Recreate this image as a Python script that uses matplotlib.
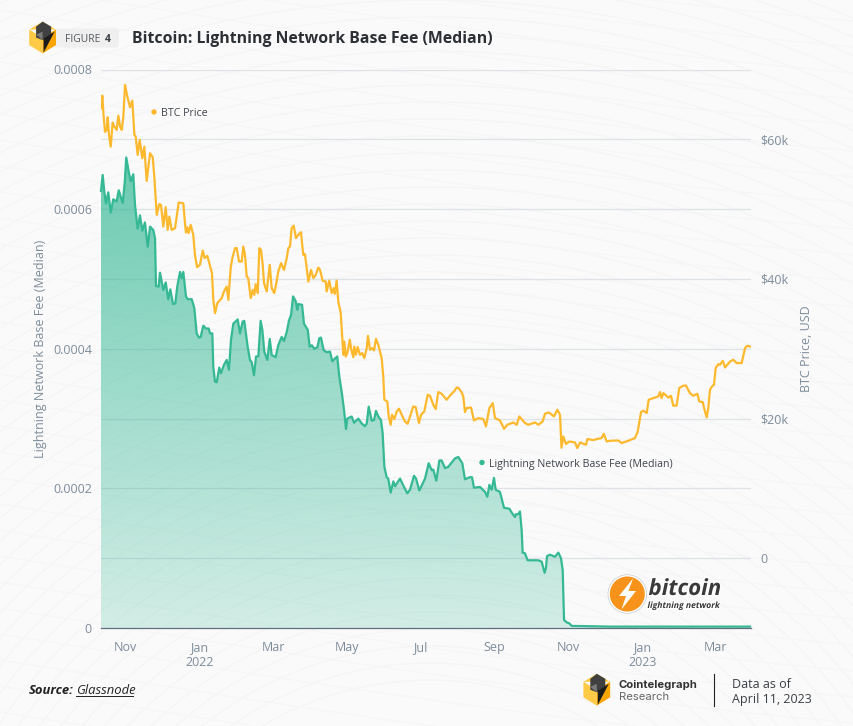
import numpy as np
import pandas as pd
import matplotlib
matplotlib.use("Agg")
import matplotlib.pyplot as plt
import matplotlib.dates as mdates
from matplotlib.patches import Polygon, FancyBboxPatch, Circle
import matplotlib.patheffects as pe

plt.rcParams['font.family'] = ['Open Sans', 'DejaVu Sans']

START = pd.Timestamp("2021-10-25")
END_DAYS = 535.4

price_days = [0,1.1,2.2,3.3,4.7,5.5,6.6,8,9.6,11,12.9,14.3,15.7,17.1,18.4,19.8,21.7,23.9,25.8,27.5,28.6,30.2,31.9,34,35.7,37.6,40.4,42.6,43.9,45.9,48,49.4,51.3,53.3,54.9,56.3,58.2,61,62.4,64,67.8,69.4,70,71.1,72.2,73.9,76,77.4,79.1,81.5,83.8,85.4,87.6,89.2,91.4,92.5,93.9,95.8,99.4,101.3,103.5,104.9,106.8,108.2,110.4,111.8,113.7,115.9,117.2,118.6,120,121.3,123.3,125,126.3,127.4,129.1,130.4,131.8,133.2,134.3,136.5,139,140.6,142.7,144.7,146,148.3,150.7,153,154.3,155.7,157,158.7,160.6,162.5,164.7,166.6,168,170.8,173,174.9,176.9,179,180.4,182.6,185.1,185.9,188,190,191.7,192.7,194.1,195.5,197.4,199.1,199.6,200.4,201.6,202.9,204.9,206.2,207.8,208.6,210,211.4,213.3,215.2,216.9,218.9,219.9,221.6,223.5,224.9,226.5,228.4,231.2,232.5,233.4,235.8,237,238.6,239.7,241.6,243.6,245.5,247.7,250.4,252.6,254.5,257.2,259.2,261.9,263.6,266.3,269.1,271,273.7,275.7,277.8,280.6,284.7,288,290.8,293,294.3,297.1,298.4,299.8,301.2,304.8,307.2,310.8,314.9,317.1,319.9,322.7,324.5,328.6,332,334.7,339.6,342.4,344.6,349.2,352,357.5,360.2,363.8,365.7,369,373.1,375.9,378.1,379.3,380.8,383,385.7,390.4,392.3,394.6,399.5,400.6,405.5,408.3,412.4,414.1,416.5,419.3,426.1,428.9,434.3,439.9,442.1,444.8,446.7,449.5,451.1,454.9,459,460.4,461.8,463.2,467.3,469.5,471.4,474.1,476.3,479.6,481.8,485.1,487.8,491.2,492.8,495.6,497.5,498.9,500.2,501.6,503.3,504.9,506.3,508.5,509.9,512.1,514,518.1,520.8,523.6,527.7,530.5,532.3,534.6]
price_k = [64.45,66.25,63.25,61.06,61.34,63.16,60.63,58.95,62.39,61.82,61.34,63.39,61.82,61.34,63.25,67.79,66.11,64.59,65.54,60.63,60.38,57.77,59.91,57.29,58.95,54.04,58.01,57.44,54.66,49.18,50.71,50.61,47.5,50.28,47.03,48.93,47.03,47.27,49.03,50.94,50.85,47.5,46.64,47.41,46.56,47.74,46.31,43.45,41.69,42.02,44.06,42.98,43.31,42.26,40.83,37.01,35.1,36.53,37.25,38.2,38.91,37.01,41.55,42.98,44.41,44.41,42.49,42.49,44.64,43.45,40.34,40.11,37.25,38.44,37.72,39.25,37.97,44.41,44.16,42.02,39.4,38.2,42.02,38.68,37.97,39.63,41.06,42.26,41.3,42.98,44.41,44.64,47.27,47.64,45.84,46.31,46.7,43.45,43.55,39.63,41.3,40.11,40.59,41.63,41.3,39.73,39.63,38.2,39.77,37.97,38.68,37.87,39.77,36.68,35.22,30.56,29.13,31.04,28.89,29.38,31.28,29.85,28.8,30.32,29.13,30.24,29.13,29.38,28.66,30.09,31.85,29.85,30.09,29.75,31.42,30.56,28.66,26.03,22.69,22.45,20.3,19.11,20.54,19.93,21.02,21.4,20.54,19.58,19.26,20.3,21.73,21.65,19.36,20.54,21.02,23.41,23.26,21.98,21.36,23.79,23.55,22.69,23.41,23.88,24.45,24.41,23.74,23.16,20.93,21.5,21.59,19.73,20.07,19.93,18.87,21.5,22.22,20.07,19.73,18.54,19.11,19.44,19.11,20.3,19.36,19.11,19.44,19.11,19.58,20.69,20.87,20.3,21.26,20.54,15.82,17.44,16.35,16.72,16.58,15.78,16.58,16.25,17.06,16.92,17.06,17.21,17.82,16.72,16.82,16.86,16.49,16.82,17.21,18.15,20.93,21.12,20.79,22.69,22.93,23.16,23.79,22.93,23.65,23.02,23.26,21.83,21.87,24.37,24.7,24.74,23.65,23.26,23.55,22.45,22.36,21.02,20.16,21.5,24.12,24.6,24.84,27.23,27.8,27.7,28.27,27.31,28.17,28.42,27.95,27.95,30.09,30.42,30.32]

fee_days = [0,1.4,2.7,4.1,6,8,10.1,12.9,14.6,17.9,19.5,20.8,23.1,24.5,26.6,28,30.2,32.1,34,36.2,38.5,40.4,43.1,44.5,45.3,47.5,48.6,51.3,53.3,55.4,57.1,59.3,61.2,62.8,65.1,66.5,67.8,70,71.4,74.7,76.9,78.8,80.7,82.1,84.3,86.5,88.7,89.8,91.7,92.5,93.9,95.3,97.4,98.8,101.3,103.5,105.4,107.1,109,112.6,114.5,116.7,118,120.8,122.7,124.1,126,127.7,129.6,131.5,132.9,134.5,137,139,140.6,143.9,146,148.8,150.7,153,154.9,156.5,158.2,160.4,161.7,162.5,165.6,167.2,170.3,171.9,173.6,175.7,178.2,179.8,181.2,183.4,185.9,188.6,190.5,192.7,194.6,196.3,198.3,200.2,201.8,202.9,206.5,208.4,211.9,214.7,217.5,218.9,220.5,223,224.9,226.5,228.4,230.6,232,233.4,235.3,236.6,238.6,240.8,242.2,246.3,249.6,252.3,254.5,257.8,259.5,262.2,265,266.9,269.9,272.4,273.7,276.2,278.7,280.6,283.4,286.1,288.9,291.6,294.3,297.6,299.8,303.9,305.6,307.2,312.2,316.3,318.2,319.9,321.8,323.7,325.1,328.6,332,336.3,338.8,341,341.8,343.7,345.1,346.5,347.3,349.2,351.4,356,360.2,363,365.4,366.5,367.4,369.8,373.9,376.7,378.9,380.3,381.4,383.6,385.7,387.7,420,460,500,534.6]
fee_e4 = [6.26,6.49,6.25,6.08,6.24,5.95,6.14,6.11,6.27,6.09,6.37,6.74,6.51,6.4,6.5,6.06,5.72,5.91,5.69,5.81,5.46,5.75,5.7,5.58,4.9,4.89,5.09,4.84,4.95,4.71,4.85,4.64,4.65,4.89,5.1,5.01,5.1,4.75,4.71,4.71,4.58,4.22,4.16,4.17,4.33,4.29,4.29,4.22,4.22,3.74,3.53,3.52,3.73,3.65,3.77,3.84,3.7,4.13,4.36,4.42,4.22,4.39,4.4,4.03,3.84,3.81,3.62,3.89,3.89,4.4,4.27,3.96,3.84,4.14,3.91,3.88,4.05,4.17,4.11,4.24,4.41,4.48,4.75,4.68,4.56,4.64,4.63,4.36,4.27,4.03,4.05,4.0,4.02,4.15,4.16,3.98,3.95,3.96,3.82,3.86,3.89,3.6,3.38,3.12,2.85,3.0,3.03,2.94,3.0,2.93,2.89,2.93,3.17,2.97,2.98,3.11,3.03,2.98,2.79,2.31,2.16,2.14,1.94,2.1,2.03,2.14,2.02,1.93,1.98,2.18,2.14,1.97,2.07,2.14,2.36,2.26,2.27,2.11,2.4,2.4,2.29,2.31,2.37,2.43,2.45,2.36,2.13,2.16,2.16,2.01,2.02,1.95,1.88,2.05,1.98,2.15,1.98,1.95,1.72,1.71,1.64,1.59,1.63,1.63,1.67,1.4,1.08,1.07,0.97,0.97,0.97,0.95,0.79,0.86,1.03,1.05,1.02,1.08,1.0,0.83,0.115,0.08,0.067,0.03,0.02,0.02,0.02,0.02]

left_ticks = [0, 0.0002, 0.0004, 0.0006, 0.0008]
left_labels = ["0", "0.0002", "0.0004", "0.0006", "0.0008"]
right_ticks = [0, 20000, 40000, 60000]
right_labels = ["0", "$20k", "$40k", "$60k"]
month_ticks = ["2021-11-14","2022-01-14","2022-03-16","2022-05-16","2022-07-15","2022-09-14","2022-11-14","2023-01-14","2023-03-15"]
month_labels = ["Nov","Jan\n2022","Mar","May","Jul","Sep","Nov","Jan\n2023","Mar"]

W, H = 854, 726
BG = "#fafafa"
GREEN = "#35b894"
ORANGE = "#fdb92e"
GREY = "#7d8c9b"
GRID = "#dfe2e6"

fee = np.array(fee_e4) * 1e-4
price = np.array(price_k) * 1000
fee_dates = START + pd.to_timedelta(fee_days, unit="D")
price_dates = START + pd.to_timedelta(price_days, unit="D")

fig = plt.figure(figsize=(W / 100, H / 100), dpi=100, facecolor=BG)


def frame(zorder):
    a = fig.add_axes([0, 0, 1, 1], zorder=zorder)
    a.set_xlim(0, W)
    a.set_ylim(H, 0)
    a.axis("off")
    a.patch.set_alpha(0)
    return a


# faint background ripples
bg = frame(0)
for r in np.arange(330, 1100, 17):
    bg.add_patch(Circle((430, 1010), r, fill=False, ec="#f5f5f6", lw=0.9))
for off in np.arange(-250, 900, 26):
    xs = np.linspace(0, W, 60)
    bg.plot(xs, off + 0.10 * xs + 30 * np.sin(xs / 500), color="#f6f6f7", lw=0.9)

ax = fig.add_axes([101 / W, 1 - 628 / H, 650 / W, 558.5 / H], zorder=1)
ax.patch.set_alpha(0)
x0 = mdates.date2num(START)
ax.set_xlim(x0, x0 + END_DAYS)
ax.set_ylim(0, 0.0008)
ax.xaxis_date()

# grid at every 0.0001 (left ticks and right ticks coincide with these)
for v in np.arange(0.0001, 0.00081, 0.0001):
    ax.axhline(v, color=GRID, lw=0.95, zorder=1)

# area with vertical gradient
xnum = mdates.date2num(fee_dates)
top = fee.max()
n = 256
rgba = np.zeros((n, 1, 4))
rgba[..., 0] = 51 / 255
rgba[..., 1] = 184 / 255
rgba[..., 2] = 148 / 255
rgba[:, 0, 3] = np.linspace(0.72, 0.2, n)
im = ax.imshow(rgba, extent=[x0, x0 + END_DAYS, 0, top], origin="upper", aspect="auto", zorder=2)
poly = Polygon(np.column_stack([np.r_[xnum[0], xnum, xnum[-1]], np.r_[0, fee, 0]]), closed=True,
               transform=ax.transData, fc="none", ec="none")
ax.add_patch(poly)
im.set_clip_path(poly)
ax.set_xlim(x0, x0 + END_DAYS)
ax.set_ylim(0, 0.0008)

ax.plot(fee_dates, fee, color=GREEN, lw=1.6, zorder=3, solid_joinstyle="round", clip_on=False)

ax.set_xticks(mdates.date2num(pd.to_datetime(month_ticks)))
ax.set_xticklabels(month_labels, color=GREY, fontsize=9)
ax.set_yticks(left_ticks)
ax.set_yticklabels(left_labels, color=GREY, fontsize=9)
ax.tick_params(axis="both", length=0)
ax.tick_params(axis="x", pad=9.5)
ax.tick_params(axis="y", pad=6.5)
for s in ["top", "left", "right"]:
    ax.spines[s].set_visible(False)
ax.spines["bottom"].set_color("#5d6f80")
ax.spines["bottom"].set_linewidth(0.9)
ax.spines["bottom"].set_zorder(4)
ax.set_ylabel("Lightning Network Base Fee (Median)", color=GREY, fontsize=9, labelpad=0)
ax.yaxis.set_label_coords((47 - 101) / 650, 0.5)

axr = ax.twinx()
axr.set_zorder(2)
axr.patch.set_alpha(0)
axr.set_ylim(-10000, 70000)
axr.plot(price_dates, price, color=ORANGE, lw=1.6, solid_joinstyle="round")
axr.set_yticks(right_ticks)
axr.set_yticklabels(right_labels, color=GREY, fontsize=9)
axr.tick_params(axis="y", length=0, pad=6.5)
for s in axr.spines.values():
    s.set_visible(False)
axr.set_ylabel("BTC Price, USD", color=GREY, fontsize=9)
axr.yaxis.set_label_coords((800 - 101) / 650, 0.5)

top_ax = frame(5)


def hex_icon(a, cx, cy, k=1.0):
    def P(pts):
        return [(cx + k * x, cy + k * y) for x, y in pts]
    a.add_patch(Polygon(P([(-13.4, -8), (0, 0), (0, 15.8), (-13.4, 7.5)]), fc="#ffcb47", ec="none"))
    a.add_patch(Polygon(P([(13.4, -8), (0, -1), (0, 15.8), (13.4, 7.5)]), fc="#f9a602", ec="none"))
    a.add_patch(Polygon(P([(0, -16), (13.4, -8), (-13.4, -8)]), fc="#ffcb47", ec="none"))
    a.add_patch(Polygon(P([(0, -16), (8.5, -11), (8.5, -3), (0, 2.5), (-6.5, 0), (-6.5, -11)]), fc="#404040", ec="none"))
    a.add_patch(Polygon(P([(-6.5, -3), (0, -6), (0, 2.5)]), fc="#7a7a7a", ec="none"))
    a.add_patch(Polygon(P([(12, -6), (1, 15), (1, 1)]), fc="#1c1c1c", ec="none"))


# header
top_ax.add_patch(FancyBboxPatch((54, 28.5), 65, 19, boxstyle="round,pad=0,rounding_size=4", fc="#efefef", ec="none"))
hex_icon(top_ax, 42.6, 37.6)
top_ax.text(65, 39.3, "FIGURE ", color="#555a60", fontsize=7.5, va="center", ha="left")
top_ax.text(104.5, 39.3, "4", color="#3a3f45", fontsize=7.5, fontweight="bold", va="center", ha="left")
top_ax.text(132, 39, "Bitcoin: Lightning Network Base Fee (Median)", color="#2c3035", fontsize=11.47,
            fontweight="bold", va="center", ha="left")

# series labels
top_ax.add_patch(Circle((154, 112), 2.7, fc=ORANGE, ec="none"))
top_ax.text(161, 113.5, "BTC Price", color="#40454b", fontsize=7.7, va="center", ha="left")
top_ax.add_patch(Circle((482, 462.5), 2.7, fc=GREEN, ec="none"))
top_ax.text(489, 464, "Lightning Network Base Fee (Median)", color="#40454b", fontsize=7.7, va="center", ha="left")

# bitcoin lightning logo
top_ax.add_patch(Circle((627.3, 594), 19.3, fc="white", ec="#c9c9c9", lw=0.5))
top_ax.add_patch(Circle((627.3, 594), 17.5, fc="#f7931a", ec="none"))
top_ax.add_patch(Polygon([(633, 578.5), (619, 596), (626, 596), (621.5, 609.5), (636, 591), (628.5, 591)],
                         fc="white", ec="none"))
halo = [pe.withStroke(linewidth=1.8, foreground="white")]
top_ax.text(648.5, 589.5, "bitcoin", color="#3a3a3a", fontsize=16, fontweight="bold", style="italic",
            va="center", ha="left", path_effects=halo)
top_ax.text(647.5, 605.5, "lightning network", color="#3a3a3a", fontsize=6.2, fontweight="bold", style="italic",
            va="center", ha="left", path_effects=halo)

# footer
top_ax.text(29, 691, "Source:", color="#222222", fontsize=9.4, fontweight="bold", style="italic", va="center", ha="left")
top_ax.text(76, 691, "Glassnode", color="#222222", fontsize=9.4, style="italic", va="center", ha="left")
top_ax.plot([76, 133], [696, 696], color="#222222", lw=0.7)

hex_icon(top_ax, 596.8, 689.8)
top_ax.text(619, 685.5, "Cointelegraph", color="#333333", fontsize=8.1, fontweight="bold", family="Inter",
            va="center", ha="left")
top_ax.text(619, 697, "Research", color="#666666", fontsize=8.1, family="Inter", va="center", ha="left")
top_ax.plot([714.3, 714.3], [674, 706], color="#222222", lw=0.8)
top_ax.text(732, 684, "Data as of", color="#3a3f45", fontsize=9.0, va="center", ha="left")
top_ax.text(732, 699, "April 11, 2023", color="#3a3f45", fontsize=9.0, va="center", ha="left")

fig.savefig("out.png", dpi=100, facecolor=BG)
